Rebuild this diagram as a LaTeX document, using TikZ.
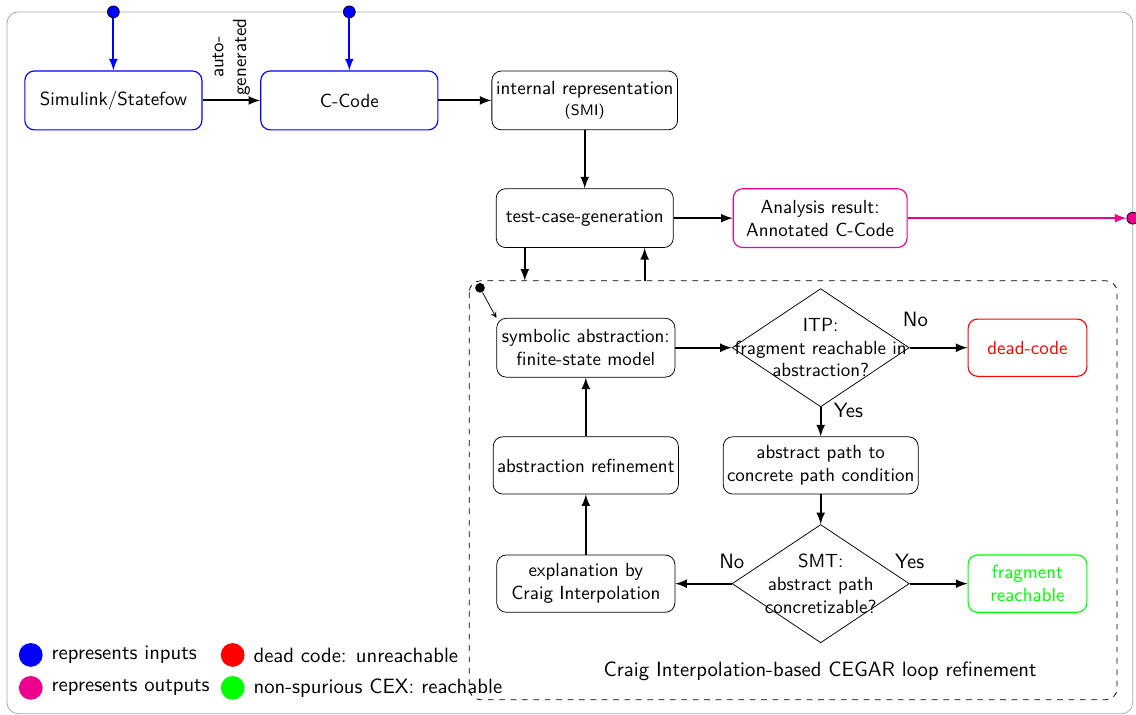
\documentclass[tikz,border=0pt]{standalone}
\usepackage{tikz}
\usetikzlibrary{shapes.geometric}

\definecolor{outpink}{RGB}{236,0,140}

\begin{document}
\begin{tikzpicture}[
	font=\sffamily,
	box/.style={draw, rounded corners=5pt, align=center, minimum height=1.09cm, inner sep=2pt},
	decision/.style={draw, diamond, minimum width=3.28cm, minimum height=2.19cm, inner sep=0pt},
	flow/.style={line width=1.1pt, -latex},
	tag/.style={font=\sffamily\fontsize{10.9}{13}\selectfont},
	port/.style={circle, draw=black, inner sep=0pt, minimum size=0.22cm}
]
\useasboundingbox (0, 0) rectangle (21.04, -13.24);
\draw [black!35, rounded corners=6pt] (0.13, -0.22) rectangle (20.98, -13.22);
\draw [dashed, rounded corners=6pt] (8.69, -5.20) rectangle (20.69, -12.96);

\node [box, draw=blue, semithick, minimum width=3.28cm] (sim) at (2.10, -1.86) {Simulink/Statefow};
\node [box, draw=blue, semithick, minimum width=3.28cm] (ccode) at (6.47, -1.86) {C-Code};
\node [box, minimum width=3.44cm] (smi) at (10.83, -1.86) {internal representation\\[-1pt]{\footnotesize (SMI)}};
\node [box, minimum width=3.28cm] (testgen) at (10.83, -4.04) {test-case-generation};
\node [box, draw=outpink, semithick, minimum width=3.22cm] (result) at (15.19, -4.04) {Analysis result:\\Annotated C-Code};

\node [port, fill=blue] (in1) at (2.10, -0.22) {};
\node [port, fill=blue] (in2) at (6.47, -0.22) {};
\node [port, fill=outpink] (out) at (20.98, -4.04) {};

\draw [flow, blue] (in1) -- (sim);
\draw [flow, blue] (in2) -- (ccode);
\draw [flow] (sim) -- node [rotate=90, anchor=west, align=center, inner sep=2pt] (autogen) {auto-\\generated} (ccode);
\draw [flow] (ccode) -- (smi);
\draw [flow] (smi) -- (testgen);
\draw [flow] (testgen) -- (result);
\draw [flow, outpink] (result) -- (out);

\coordinate (down) at (9.72, -5.20);
\coordinate (up) at (11.94, -5.20);
\draw [flow] (testgen.south -| down) -- (down);
\draw [flow] (up) -- (up |- testgen.south);

% CEGAR loop
\node [box, minimum width=3.30cm] (symb) at (10.85, -6.44) {symbolic abstraction:\\finite-state model};
\node [decision, label={[align=center]center:{ITP:\\fragment reachable in\\abstraction?}}] (itp) at (15.20, -6.44) {};
\node [box, draw=red, semithick, text=red, minimum width=2.20cm, minimum height=1.06cm] (dead) at (19.03, -6.44) {dead-code};
\node [box, minimum width=3.46cm, minimum height=1.06cm] (abspath) at (15.20, -8.62) {abstract path to\\concrete path condition};
\node [box, minimum width=3.39cm, minimum height=1.06cm] (refine) at (10.85, -8.62) {abstraction refinement};
\node [decision, label={[align=center]center:{SMT:\\abstract path\\concretizable?}}] (smt) at (15.20, -10.81) {};
\node [box, minimum width=3.30cm, minimum height=1.06cm] (explain) at (10.85, -10.81) {explanation by\\Craig Interpolation};
\node [box, draw=green, semithick, text=green, minimum width=2.20cm, minimum height=1.06cm] (frag) at (19.03, -10.81) {fragment\\reachable};
\node [tag] (caption) at (15.19, -12.43) {Craig Interpolation-based CEGAR loop refinement};

\node [circle, fill, inner sep=0pt, minimum size=0.18cm] (init) at (8.89, -5.33) {};
\draw [-stealth] (init) -- (symb.north west);

\draw [flow] (symb) -- (itp);
\draw [flow] (itp) -- node [tag, pos=0.1, above=7pt] {No} (dead);
\draw [flow] (itp) -- node [tag, pos=0.1, right=3pt] {Yes} (abspath);
\draw [flow] (abspath) -- (smt);
\draw [flow] (smt) -- node [tag, pos=0, above=4pt] {No} (explain);
\draw [flow] (smt) -- node [tag, pos=0, above=4pt] {Yes} (frag);
\draw [flow] (explain) -- (refine);
\draw [flow] (refine) -- (symb);

% legend
\foreach \name/\col/\x/\y/\txt in {
	in/blue/0.57/-12.13/represents inputs,
	out/outpink/0.57/-12.74/represents outputs,
	dead/red/4.31/-12.13/dead code: unreachable,
	reach/green/4.31/-12.74/non-spurious CEX: reachable
	} {
	\node [circle, fill=\col, inner sep=0pt, minimum size=0.44cm] (key-\name) at (\x, \y) {};
	\node [tag, right=1pt] (keytext-\name) at (key-\name.east) {\txt};
}
\end{tikzpicture}
\end{document}
